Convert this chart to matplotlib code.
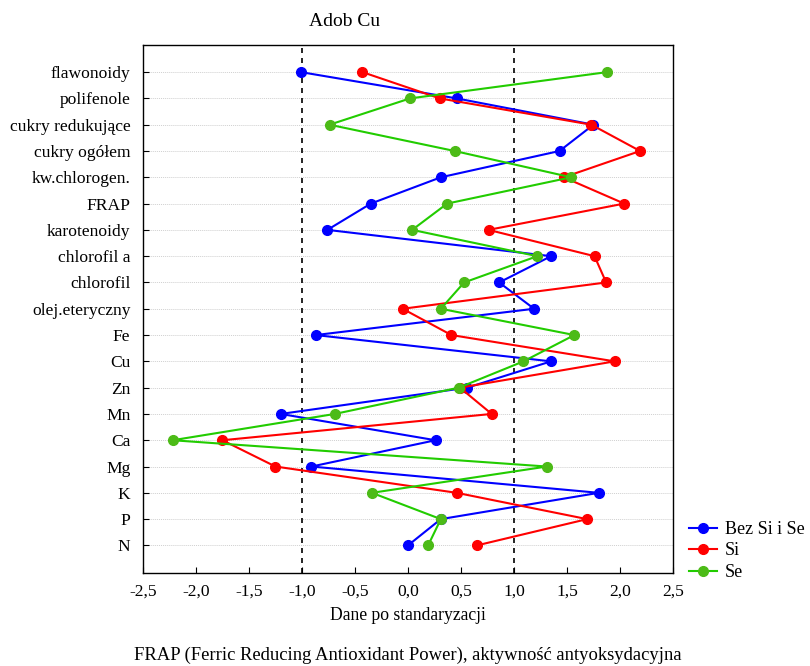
import numpy as np
import matplotlib
matplotlib.use('Agg')
from matplotlib import pyplot as plt

plt.rcParams['font.family'] = ['Liberation Serif', 'DejaVu Serif']

categories = ['flawonoidy', 'polifenole', 'cukry redukujące', 'cukry ogółem',
              'kw.chlorogen.', 'FRAP', 'karotenoidy', 'chlorofil a', 'chlorofil',
              'olej.eteryczny', 'Fe', 'Cu', 'Zn', 'Mn', 'Ca', 'Mg', 'K', 'P', 'N']

bez_si_se = [-1.01, 0.46, 1.75, 1.43, 0.31, -0.35, -0.76, 1.35, 0.86,
             1.19, -0.87, 1.35, 0.56, -1.20, 0.26, -0.91, 1.80, 0.31, 0.0]
si = [-0.43, 0.30, 1.73, 2.19, 1.47, 2.04, 0.76, 1.76, 1.87,
      -0.05, 0.41, 1.95, 0.49, 0.79, -1.75, -1.25, 0.46, 1.69, 0.65]
se = [1.88, 0.02, -0.74, 0.44, 1.54, 0.37, 0.04, 1.22, 0.53,
      0.31, 1.57, 1.09, 0.48, -0.69, -2.22, 1.31, -0.34, 0.31, 0.19]

xticks = [-2.5, -2.0, -1.5, -1.0, -0.5, 0.0, 0.5, 1.0, 1.5, 2.0, 2.5]

fig = plt.figure(figsize=(8.1, 6.66), dpi=100)
ax = fig.add_axes([0.1765, 0.1396, 0.6543, 0.7928])

ypos = np.arange(len(categories))[::-1]

# linie pomocnicze
for yy in ypos:
    ax.axhline(yy, color='#d0d0d0', lw=0.7, ls=(0, (1, 1)), zorder=0)
ax.axvline(-1.0, color='black', lw=1.2, ls=(0, (3, 3)), zorder=1)
ax.axvline(1.0, color='black', lw=1.2, ls=(0, (3, 3)), zorder=1)

ax.plot(bez_si_se, ypos, color='#0000ff', marker='o', ms=7, lw=1.5, label='Bez Si i Se', zorder=3)
ax.plot(si, ypos, color='#ff0000', marker='o', ms=7, lw=1.5, label='Si', zorder=3)
ax.plot(se, ypos, color='#22cc00', marker='o', ms=7, lw=1.5, mfc='#4cbb17', mec='#4cbb17',
        label='Se', zorder=3)

ax.set_xlim(-2.5, 2.5)
ax.set_ylim(-1.05, len(categories) + 0.03)
ax.set_xticks(xticks)
ax.set_xticklabels([('%.1f' % t).replace('.', ',') for t in xticks])
ax.set_yticks(ypos)
ax.set_yticklabels(categories)
ax.tick_params(direction='in', length=4, labelsize=12.6, width=0.8)
ax.tick_params(axis='y', pad=9)
ax.tick_params(axis='x', pad=8)
for s in ax.spines.values():
    s.set_linewidth(1.0)

ax.set_xlabel('Dane po standaryzacji', fontsize=12.7, labelpad=5)
fig.text(0.425, 1 - 21 / 666, 'Adob Cu', ha='center', va='center', fontsize=14)
fig.text(0.503, 1 - 655 / 666, 'FRAP (Ferric Reducing Antioxidant Power), aktywność antyoksydacyjna',
         ha='center', va='center', fontsize=13.45)

ax.legend(loc='center left', bbox_to_anchor=(1.030, 0.042), frameon=False, fontsize=13,
          handlelength=1.55, handletextpad=0.45, labelspacing=0.25, borderaxespad=0,
          borderpad=0)

fig.savefig('out.png', dpi=100)
